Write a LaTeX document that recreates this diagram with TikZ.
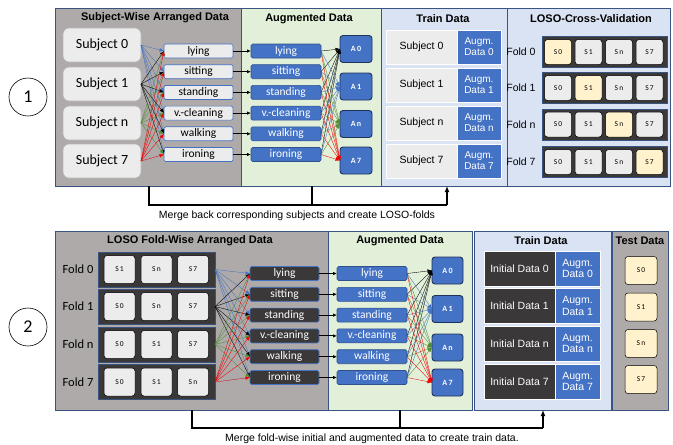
\documentclass[tikz,border=0pt]{standalone}
\usepackage{fontspec}
\setmainfont{Liberation Sans}
\newfontfamily\calfont{Carlito}
\usetikzlibrary{arrows.meta}
\definecolor{pgray}{RGB}{174,170,170}
\definecolor{pgreen}{RGB}{226,240,217}
\definecolor{pblue}{RGB}{218,227,243}
\definecolor{pborder}{RGB}{58,84,130}
\definecolor{lgray}{RGB}{236,236,236}
\definecolor{sgrayb}{RGB}{180,180,180}
\definecolor{ablue}{RGB}{68,114,196}
\definecolor{abord}{RGB}{47,82,143}
\definecolor{adark}{RGB}{31,50,90}
\definecolor{dk}{RGB}{58,56,56}
\definecolor{yel}{RGB}{255,242,204}
\definecolor{cblue}{RGB}{68,114,196}
\definecolor{cgreen}{RGB}{84,140,53}
\definecolor{cred}{RGB}{240,0,0}
\begin{document}
\begin{tikzpicture}[x=1pt,y=-1pt,
 every node/.style={inner sep=0pt,outer sep=0pt},
 sz/.style 2 args={minimum width=#1pt,minimum height=#2pt},
 panel/.style={draw=pborder,line width=0.9pt},
 ttl/.style={font=\bfseries\fontsize{11}{13}\selectfont},
 subj/.style={draw=sgrayb,fill=lgray,rounded corners=6pt,line width=0.6pt,font=\calfont\fontsize{14}{16}\selectfont,sz={78}{34}},
 actT/.style={draw=ablue,fill=lgray,rounded corners=1.5pt,line width=0.7pt,font=\calfont\fontsize{11.5}{13}\selectfont,sz={69}{14}},
 actB/.style={draw=ablue,fill=dk,text=white,rounded corners=1.5pt,line width=0.7pt,font=\calfont\fontsize{11.5}{13}\selectfont,sz={69}{14}},
 augb/.style={draw=abord,fill=ablue,text=white,rounded corners=1.5pt,line width=0.6pt,font=\calfont\fontsize{11.5}{13}\selectfont,sz={70}{14}},
 abox/.style={draw=adark,fill=ablue,text=white,rounded corners=3pt,line width=0.9pt,font=\calfont\bfseries\fontsize{8}{9}\selectfont},
 trg/.style={draw=white,fill=lgray,line width=0.6pt,font=\fontsize{10.5}{12}\selectfont},
 trd/.style={draw=white,fill=dk,text=white,line width=0.6pt,font=\fontsize{10.5}{12}\selectfont},
 trb/.style={draw=white,fill=ablue,text=white,line width=0.6pt,align=center,font=\fontsize{10}{11}\selectfont},
 drow/.style={draw=pborder,fill=dk,line width=0.7pt},
 sbox/.style={draw=black,rounded corners=3pt,line width=0.5pt,font=\calfont\fontsize{7.5}{9}\selectfont},
 foldA/.style={font=\fontsize{10.5}{12}\selectfont},
 foldB/.style={font=\calfont\fontsize{12.5}{14}\selectfont},
 fan/.style={line width=0.35pt,-{Latex[length=4.5pt,width=3.5pt]}},
 conarr/.style={line width=0.9pt,-{Latex[length=4pt,width=3.5pt]}},
 brk/.style={line width=1.3pt,black},
 capt/.style={font=\fontsize{10.5}{12}\selectfont}
]
\useasboundingbox (0,0) rectangle (673,445);
% ---------------- circles
\node[circle,draw,line width=0.6pt,minimum size=38pt,font=\calfont\fontsize{18}{20}\selectfont] (c1) at (28,97) {1};
\node[circle,draw,line width=0.6pt,minimum size=38pt,font=\calfont\fontsize{18}{20}\selectfont] (c2) at (28,327) {2};
% ---------------- top panels
\node[panel,fill=pgray,sz={186}{178}] (p1) at (148,97) {};
\node[panel,fill=pgreen,sz={140}{178}] (p2) at (311,97) {};
\node[panel,fill=pblue,sz={126}{178}] (p3) at (444,97) {};
\node[panel,fill=pblue,sz={163}{178}] (p4) at (588.5,97) {};
\node[ttl] (t1) at (155,18) {Subject-Wise Arranged Data};
\node[ttl] (t2) at (309,19) {Augmented Data};
\node[ttl] (t3) at (443,19) {Train Data};
\node[ttl] (t4) at (591,19) {LOSO-Cross-Validation};
% subjects
\foreach \s/\y [count=\i from 0] in {0/45,1/84,n/123,7/161}
  \node[subj] (ts\i) at (102,\y) {Subject \s};
% activities
\foreach \t [count=\i from 0] in {lying,sitting,standing,v.-cleaning,walking,ironing} {
  \pgfmathsetmacro\yy{51+20.7*\i}
  \node[actT] (ta\i) at (198.5,\yy) {\t};
  \node[augb] (tg\i) at (286,\yy) {\t};
  \draw[conarr] (ta\i.east) -- (tg\i.west);
}
\foreach \k/\y/\l in {0/49/0,1/86.5/1,2/124/n,3/160.5/7}
  \node[abox,sz={32}{27}] (tA\k) at (356,\y) {A\,\l};
\foreach \i/\c in {0/cblue,1/black,2/cgreen,3/cred}
  \foreach \j in {0,...,5}
    \draw[fan,\c] (ts\i.east) -- (ta\j.west);
\foreach \k/\c in {0/black,1/cblue,2/cgreen,3/cred}
  \foreach \j in {0,...,5}
    \draw[fan,\c] (tg\j.east) -- (tA\k.west);
% train data top
\foreach \k/\y/\l in {0/47/0,1/85/1,2/123/n,3/161/7} {
  \node[trg,sz={71}{34}] (tr\k) at (421.5,\y) {Subject \l};
  \node[trb,sz={44}{34}] (tb\k) at (479,\y) {Augm.\\Data \l};
}
% LOSO cross validation
\foreach \k/\y/\l in {0/52/0,1/88/1,2/124.5/n,3/162/7} {
  \node[foldA] (fl\k) at (521,\y) {Fold \l};
  \node[drow,sz={125}{31}] (lr\k) at (604.5,\y) {};
  \foreach \m/\x/\ml in {0/558/0,1/588.5/1,2/619/n,3/649.5/7} {
    \ifnum\k=\m \def\fc{yel}\else\def\fc{lgray}\fi
    \node[sbox,fill=\fc,sz={27}{25}] (ls\k\m) at (\x,\y) {S\,\ml};
  }
}
% bracket top
\coordinate (b1) at (149,205);
\coordinate (b2) at (447,205);
\coordinate (b3) at (312,205);
\draw[brk] (p1.south -| b1) |- (b2);
\draw[brk] (p2.south -| b3) -- (b3);
\draw[brk,-{Latex[length=6pt,width=5pt]}] (b2) -- (p3.south -| b2);
\node[capt] (cap1) at (297,216) {Merge back corresponding subjects and create LOSO-folds};
% ---------------- bottom panels
\node[panel,fill=pgray,sz={273}{179}] (q1) at (191.5,320.5) {};
\node[panel,fill=pgreen,sz={144}{179}] (q2) at (400,320.5) {};
\node[panel,fill=pblue,sz={137}{179}] (q3) at (542.5,320.5) {};
\node[panel,fill=pgray,sz={56}{179}] (q4) at (640,320.5) {};
\node[ttl] (u1) at (190,241) {LOSO Fold-Wise Arranged Data};
\node[ttl] (u2) at (400,241) {Augmented Data};
\node[ttl] (u3) at (541,241) {Train Data};
\node[ttl] (u4) at (640,241) {Test Data};
% folds
\foreach \k/\y/\l/\a/\b/\c in {0/269.5/0/1/n/7,1/306.5/1/0/n/7,2/344.5/n/0/1/7,3/382/7/0/1/n} {
  \node[foldB] (bl\k) at (78,\y) {Fold \l};
  \node[drow,sz={117}{35}] (br\k) at (156.5,\y) {};
  \node[sbox,fill=lgray,sz={31}{28}] (bs\k a) at (119.5,\y) {S\,\a};
  \node[sbox,fill=lgray,sz={31}{28}] (bs\k b) at (156.5,\y) {S\,\b};
  \node[sbox,fill=lgray,sz={31}{28}] (bs\k c) at (193,\y) {S\,\c};
}
\foreach \t [count=\i from 0] in {lying,sitting,standing,v.-cleaning,walking,ironing} {
  \pgfmathsetmacro\yy{273.5+20.8*\i}
  \node[actB] (ba\i) at (284.5,\yy) {\t};
  \node[augb] (bg\i) at (372,\yy) {\t};
  \draw[conarr] (ba\i.east) -- (bg\i.west);
}
\foreach \k/\y/\l in {0/270.5/0,1/309/1,2/347.5/n,3/382.5/7}
  \node[abox,sz={31}{27}] (bA\k) at (447.5,\y) {A\,\l};
\foreach \i/\c in {0/cblue,1/black,2/cgreen,3/cred}
  \foreach \j in {0,...,5}
    \draw[fan,\c] (br\i.east) -- (ba\j.west);
\foreach \k/\c in {0/black,1/cblue,2/cgreen,3/cred}
  \foreach \j in {0,...,5}
    \draw[fan,\c] (bg\j.east) -- (bA\k.west);
% train bottom
\foreach \k/\y/\l in {0/268.5/0,1/306/1,2/343.5/n,3/381.5/7} {
  \node[trd,sz={71}{35}] (ur\k) at (519.5,\y) {Initial Data \l};
  \node[trb,sz={45}{35},font=\fontsize{10.5}{11.5}\selectfont] (ub\k) at (577.5,\y) {Augm.\\Data \l};
}
% test
\foreach \k/\y/\l in {0/270.5/0,1/307/1,2/343.5/n,3/379.5/7}
  \node[sbox,fill=yel,sz={32}{28}] (te\k) at (641,\y) {S\,\l};
% bracket bottom
\coordinate (d1) at (192,428);
\coordinate (d2) at (543,428);
\coordinate (d3) at (400,428);
\draw[brk] (q1.south -| d1) |- (d2);
\draw[brk] (q2.south -| d3) -- (d3);
\draw[brk,-{Latex[length=6pt,width=5pt]}] (d2) -- (q3.south -| d2);
\node[capt] (cap2) at (372,439) {Merge fold-wise initial and augmented data to create train data.};
\end{tikzpicture}
\end{document}
